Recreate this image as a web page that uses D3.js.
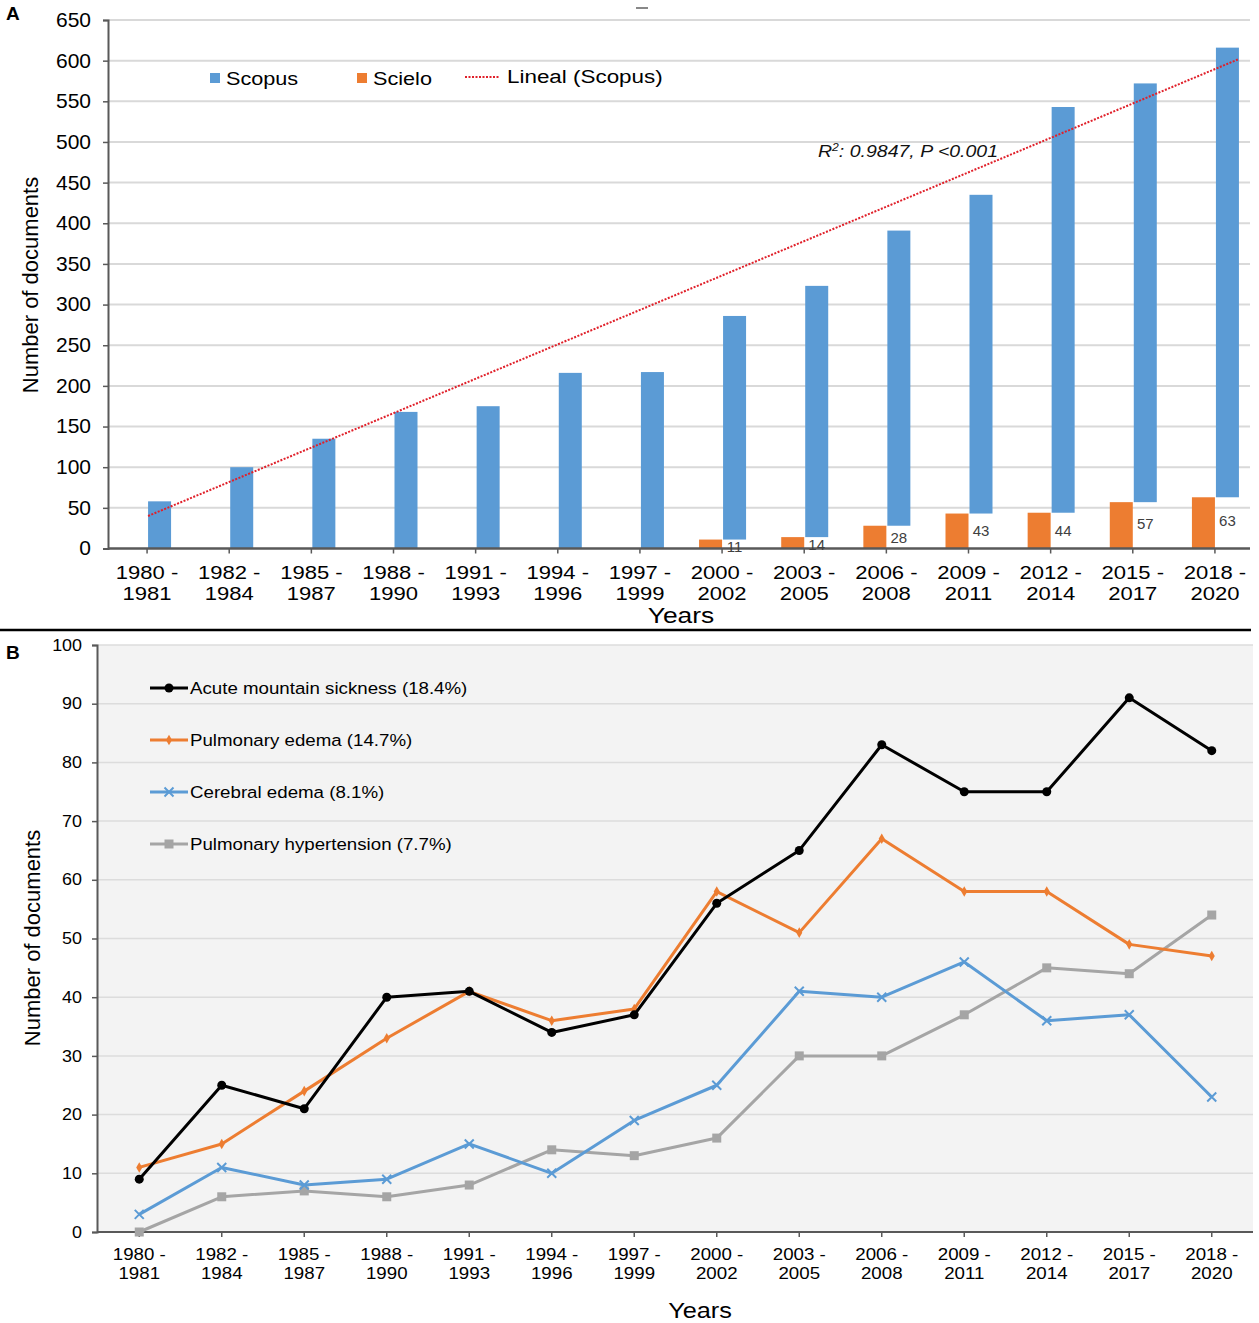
<!DOCTYPE html>
<html>
<head>
<meta charset="utf-8">
<script src="https://cdn.jsdelivr.net/npm/d3@7"></script>
<style>
  body { margin: 0; background: #fff; }
  svg { font-family: "Liberation Sans", Arial, sans-serif; }
</style>
</head>
<body>
<div id="graph"></div>
<script>
// ---- data ----
var periods = ["1980 - 1981", "1982 - 1984", "1985 - 1987", "1988 - 1990", "1991 - 1993",
  "1994 - 1996", "1997 - 1999", "2000 - 2002", "2003 - 2005", "2006 - 2008",
  "2009 - 2011", "2012 - 2014", "2015 - 2017", "2018 - 2020"];

var scopus = [58, 100, 135, 168, 175, 216, 217, 286, 323, 391, 435, 543, 572, 616];
var scielo = [0, 0, 0, 0, 0, 0, 0, 11, 14, 28, 43, 44, 57, 63];
var trendEnds = [40, 602];
var yTicksA = d3.range(0, 651, 50);

var acute = [9, 25, 21, 40, 41, 34, 37, 56, 65, 83, 75, 75, 91, 82];
var pulmEdema = [11, 15, 24, 33, 41, 36, 38, 58, 51, 67, 58, 58, 49, 47];
var cerebral = [3, 11, 8, 9, 15, 10, 19, 25, 41, 40, 46, 36, 37, 23];
var pulmHyper = [0, 6, 7, 6, 8, 14, 13, 16, 30, 30, 37, 45, 44, 54];
var yTicksB = d3.range(0, 101, 10);

var seriesB = [
  { name: "Acute mountain sickness (18.4%)", values: acute, color: "#000000", marker: "circle" },
  { name: "Pulmonary edema (14.7%)", values: pulmEdema, color: "#ed7d31", marker: "diamond" },
  { name: "Cerebral edema (8.1%)", values: cerebral, color: "#5b9bd5", marker: "x" },
  { name: "Pulmonary hypertension (7.7%)", values: pulmHyper, color: "#a5a5a5", marker: "square" }
];

var axisColor = "#595959";
var gridColor = "#d9d9d9";

var svg = d3.select("#graph").append("svg")
  .attr("width", 1259).attr("height", 1323);

// the original figure has its text a bit stretched sideways
function wideText(parent, x, y, k) {
  return parent.append("g")
    .attr("transform", "translate(" + [x, y] + ")scale(" + k + ",1)")
    .append("text");
}

function periodLabel(sel, k) {
  sel.attr("transform", "scale(" + k + ",1)");
  sel.each(function(d) {
    var parts = d.split(" - ");
    var t = d3.select(this).text(null);
    t.append("tspan").attr("x", 0).attr("dy", "0.9em").text(parts[0] + " -");
    t.append("tspan").attr("x", 0).attr("dy", "1.12em").text(parts[1]);
  });
}

// ================= Panel A =================
var xA = d3.scaleBand().domain(periods).range([106, 1256]);
var yA = d3.scaleLinear().domain([0, 650]).range([548.5, 20]);
var barW = 23;

var gA = svg.append("g").attr("class", "panelA");

gA.append("g").attr("class", "grid")
  .selectAll("line").data(yTicksA.slice(1)).enter().append("line")
  .attr("x1", 108).attr("x2", 1250)
  .attr("y1", function(d) { return yA(d); })
  .attr("y2", function(d) { return yA(d); })
  .attr("stroke", gridColor).attr("stroke-width", 2);

// scielo bars
gA.append("g").selectAll("rect").data(periods).enter().append("rect")
  .filter(function(d, i) { return scielo[i] > 0; })
  .attr("x", function(d) { return xA(d) + xA.bandwidth() / 2 - barW; })
  .attr("width", barW)
  .attr("y", function(d) { return yA(scielo[periods.indexOf(d)]); })
  .attr("height", function(d) { return yA(0) - yA(scielo[periods.indexOf(d)]); })
  .attr("fill", "#ed7d31");

// scopus bars sitting on top of the scielo level
gA.append("g").selectAll("rect").data(periods).enter().append("rect")
  .attr("x", function(d) { return xA(d) + xA.bandwidth() / 2 + 1; })
  .attr("width", barW)
  .attr("y", function(d, i) { return yA(scopus[i]); })
  .attr("height", function(d, i) { return yA(scielo[i]) - yA(scopus[i]); })
  .attr("fill", "#5b9bd5");

// axes
var yAxisA = d3.axisLeft(yA).tickValues(yTicksA).tickSize(5).tickPadding(14);
gA.append("g").attr("transform", "translate(108,0)").call(yAxisA)
  .call(function(g) {
    g.select(".domain").attr("stroke", axisColor).attr("stroke-width", 2);
    g.selectAll(".tick line").attr("stroke", axisColor).attr("stroke-width", 1.5);
    g.selectAll(".tick text").attr("font-size", 20).attr("fill", "#000")
      .attr("x", -17 / 1.05).attr("transform", "scale(1.05,1)");
  });

var xAxisA = d3.axisBottom(xA).tickSize(5).tickPadding(8).tickSizeOuter(0);
gA.append("g").attr("transform", "translate(0,548.5)").call(xAxisA)
  .call(function(g) {
    g.select(".domain").attr("stroke", axisColor).attr("stroke-width", 2.5)
      .attr("d", "M108,0H1250");
    g.selectAll(".tick line").attr("stroke", axisColor).attr("stroke-width", 1.5);
    g.selectAll(".tick text").attr("font-size", 19).attr("fill", "#000")
      .call(periodLabel, 1.16);
  });

// scielo value labels
gA.append("g").selectAll("text").data(periods).enter().append("text")
  .filter(function(d, i) { return scielo[i] > 0; })
  .attr("x", function(d) { return xA(d) + xA.bandwidth() / 2 + 1 + barW / 2; })
  .attr("y", function(d) { return yA(scielo[periods.indexOf(d)] * 0.6) + 3; })
  .attr("text-anchor", "middle").attr("dominant-baseline", "central")
  .attr("font-size", 15).attr("fill", "#404040")
  .text(function(d) { return scielo[periods.indexOf(d)]; });

// linear trend
var trendX = [xA(periods[0]) + xA.bandwidth() / 2 + 1,
  xA(periods[periods.length - 1]) + xA.bandwidth() / 2 + 1 + barW];
gA.append("line")
  .attr("x1", trendX[0]).attr("y1", yA(trendEnds[0]))
  .attr("x2", trendX[1]).attr("y2", yA(trendEnds[1]))
  .attr("stroke", "#e0202a").attr("stroke-width", 2)
  .attr("stroke-dasharray", "2,1.5");

wideText(gA, 818, 157, 1.22)
  .attr("font-size", 16).attr("font-style", "italic").attr("fill", "#111")
  .html("R<tspan dy='-6' font-size='10'>2</tspan><tspan dy='6'>: 0.9847, P &lt;0.001</tspan>");

// legend A
var legA = gA.append("g").attr("font-size", 19).attr("fill", "#000");
legA.append("rect").attr("x", 210).attr("y", 73).attr("width", 10).attr("height", 10).attr("fill", "#5b9bd5");
wideText(legA, 226, 85, 1.14).text("Scopus");
legA.append("rect").attr("x", 357).attr("y", 73).attr("width", 10).attr("height", 10).attr("fill", "#ed7d31");
wideText(legA, 373, 85, 1.14).text("Scielo");
legA.append("line").attr("x1", 465).attr("x2", 499).attr("y1", 77).attr("y2", 77)
  .attr("stroke", "#e0202a").attr("stroke-width", 2).attr("stroke-dasharray", "2,1.5");
wideText(legA, 507, 83, 1.18).text("Lineal (Scopus)");

gA.append("line").attr("x1", 636).attr("x2", 648).attr("y1", 8).attr("y2", 8)
  .attr("stroke", "#888").attr("stroke-width", 2);

wideText(gA, 38, 285, 1).attr("transform", "rotate(-90)")
  .attr("text-anchor", "middle").attr("font-size", 22).text("Number of documents");
wideText(gA, 681, 623, 1.2).attr("text-anchor", "middle")
  .attr("font-size", 22).text("Years");
gA.append("text").attr("x", 6).attr("y", 20).attr("font-size", 19)
  .attr("font-weight", "bold").text("A");

// divider
svg.append("line").attr("x1", 0).attr("x2", 1251).attr("y1", 630).attr("y2", 630)
  .attr("stroke", "#000").attr("stroke-width", 2.5);

// ================= Panel B =================
var xB = d3.scaleBand().domain(periods).range([98, 1253]);
var yB = d3.scaleLinear().domain([0, 100]).range([1232, 645]);
var cx = function(i) { return xB(periods[i]) + xB.bandwidth() / 2; };

var gB = svg.append("g").attr("class", "panelB");

gB.append("rect").attr("x", 97).attr("y", 645).attr("width", 1156).attr("height", 587)
  .attr("fill", "#f3f3f3");

gB.append("g").selectAll("line").data(yTicksB.slice(1)).enter().append("line")
  .attr("x1", 97).attr("x2", 1253)
  .attr("y1", function(d) { return yB(d); })
  .attr("y2", function(d) { return yB(d); })
  .attr("stroke", "#dcdcdc").attr("stroke-width", 1.5);

var yAxisB = d3.axisLeft(yB).tickValues(yTicksB).tickSize(5).tickPadding(12);
gB.append("g").attr("transform", "translate(97,0)").call(yAxisB)
  .call(function(g) {
    g.select(".domain").attr("stroke", axisColor).attr("stroke-width", 2);
    g.selectAll(".tick line").attr("stroke", axisColor).attr("stroke-width", 1.5);
    g.selectAll(".tick text").attr("font-size", 16).attr("fill", "#000")
      .attr("x", -15 / 1.12).attr("transform", "scale(1.12,1)");
  });

var xAxisB = d3.axisBottom(xB).tickSize(5).tickPadding(8).tickSizeOuter(0);
gB.append("g").attr("transform", "translate(0,1232)").call(xAxisB)
  .call(function(g) {
    g.select(".domain").attr("stroke", axisColor).attr("stroke-width", 2)
      .attr("d", "M97,0H1253");
    g.selectAll(".tick line").attr("stroke", axisColor).attr("stroke-width", 1.5);
    g.selectAll(".tick text").attr("font-size", 17).attr("fill", "#000")
      .call(periodLabel, 1.1);
  });

function drawMarker(sel, type, color) {
  if (type === "circle") {
    sel.append("circle").attr("r", 4.5).attr("fill", color);
  } else if (type === "diamond") {
    sel.append("path").attr("d", d3.symbol(d3.symbolDiamond, 32)()).attr("fill", color);
  } else if (type === "square") {
    sel.append("rect").attr("x", -4.5).attr("y", -4.5).attr("width", 9).attr("height", 9).attr("fill", color);
  } else {
    sel.append("path").attr("d", "M-4.5,-4.5L4.5,4.5M-4.5,4.5L4.5,-4.5")
      .attr("stroke", color).attr("stroke-width", 2).attr("fill", "none");
  }
}

var line = d3.line().x(function(d, i) { return cx(i); }).y(function(d) { return yB(d); });

// draw from back to front: grey, blue, orange, black
seriesB.slice().reverse().forEach(function(s) {
  var g = gB.append("g");
  g.append("path").attr("d", line(s.values)).attr("fill", "none")
    .attr("stroke", s.color).attr("stroke-width", 3).attr("stroke-linejoin", "round");
  g.selectAll("g.m").data(s.values).enter().append("g").attr("class", "m")
    .attr("transform", function(d, i) { return "translate(" + cx(i) + "," + yB(d) + ")"; })
    .each(function() { drawMarker(d3.select(this), s.marker, s.color); });
});

// legend B
var legB = gB.append("g").attr("font-size", 17).attr("fill", "#000");
seriesB.forEach(function(s, i) {
  var y = 688 + i * 52;
  legB.append("line").attr("x1", 150).attr("x2", 188).attr("y1", y).attr("y2", y)
    .attr("stroke", s.color).attr("stroke-width", 3);
  var m = legB.append("g").attr("transform", "translate(169," + y + ")");
  drawMarker(m, s.marker, s.color);
  wideText(legB, 190, y, 1.1).attr("dy", "0.35em").text(s.name);
});

wideText(gB, 40, 938, 1).attr("transform", "rotate(-90)")
  .attr("text-anchor", "middle").attr("font-size", 22).text("Number of documents");
wideText(gB, 700, 1318, 1.15).attr("text-anchor", "middle")
  .attr("font-size", 22).text("Years");
gB.append("text").attr("x", 6).attr("y", 659).attr("font-size", 19)
  .attr("font-weight", "bold").text("B");
</script>
</body>
</html>
